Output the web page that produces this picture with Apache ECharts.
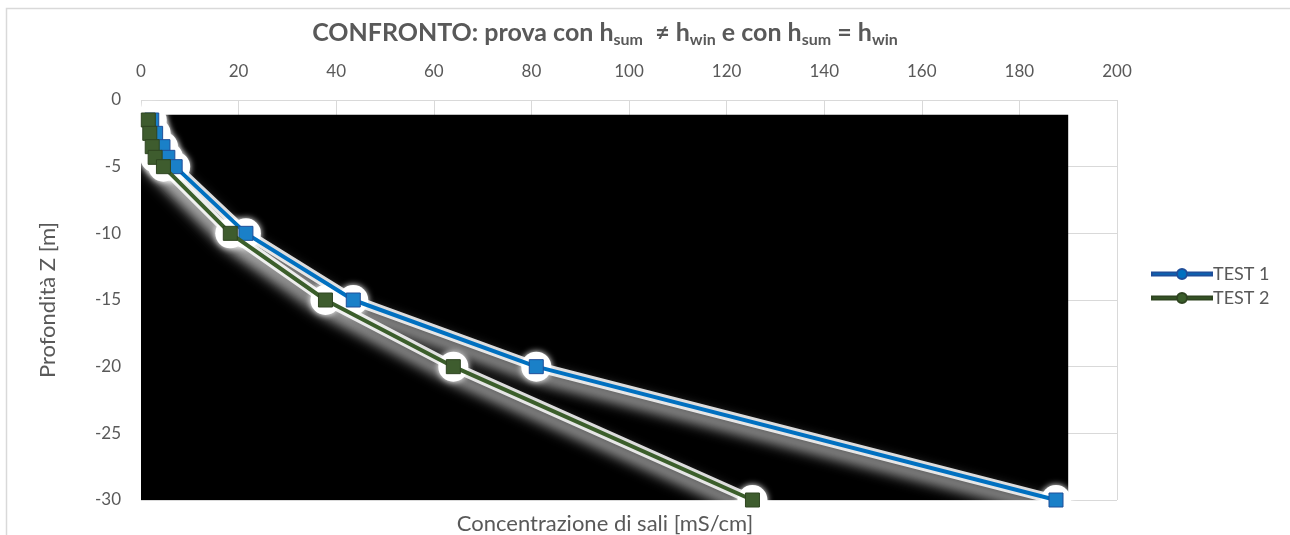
<!DOCTYPE html>
<html>
<head>
<meta charset="utf-8">
<script src="https://cdn.jsdelivr.net/npm/echarts@6/dist/echarts.min.js"></script>
<style>
  html, body { margin: 0; padding: 0; background: #fff; }
  #chart { width: 1290px; height: 535px; }
</style>
</head>
<body>
<div id="chart"></div>
<script>
// Depth profile of salt concentration, two test runs
const depths   = [-1.5, -2.5, -3.5, -4.3, -5, -10, -15, -20, -30];
const test1    = [2.2, 3.0, 4.5, 5.5, 7.0, 21.5, 43.5, 81.0, 187.5];
const test2    = [1.5, 1.8, 2.3, 2.9, 4.6, 18.3, 37.8, 64.0, 125.3];
const seriesNames = ['TEST 1', 'TEST 2'];
const xTicks = { min: 0, max: 200, step: 20 };
const yTicks = { min: -30, max: 0, step: 5 };

const FONT = 'Lato, "Open Sans", sans-serif';
const TXT = '#595959';
const BLUE = '#0070C0';
const GREEN = '#3B5E2B';

function pairs(xs) { return xs.map((v, i) => [v, depths[i]]); }

// legend glyph: a thick line with a dot in the middle
const legendIcon = 'path://M0,4 H25 V7 H0 Z M35,4 H60 V7 H35 Z M25,5.5 A5,5 0 1 1 35,5.5 A5,5 0 1 1 25,5.5 Z';

// soft white halo drawn under each test line
function halo(name, xs) {
  return {
    name: name, type: 'line', z: 2, silent: true,
    data: pairs(xs),
    symbol: 'circle', symbolSize: 30,
    lineStyle: { color: 'rgba(255,255,255,0.85)', width: 10, shadowColor: '#fff', shadowBlur: 14, shadowOffsetX: -4, shadowOffsetY: 8 },
    itemStyle: { color: '#fff', shadowColor: '#fff', shadowBlur: 6 },
    emphasis: { disabled: true }
  };
}

const chart = echarts.init(document.getElementById('chart'), null, { renderer: 'canvas' });
chart.setOption({
  backgroundColor: '#fff',
  animation: false,
  textStyle: { fontFamily: FONT },
  title: [{
    text: '{b|CONFRONTO: prova con h}{s|sum}{b|  ≠ h}{s|win}{b| e con h}{s|sum}{b| = h}{s|win}',
    left: 600, top: 13, textAlign: 'center',
    textStyle: {
      rich: {
        b: { fontFamily: FONT, fontWeight: 'bold', fontSize: 25, color: TXT, lineHeight: 30 },
        s: { fontFamily: FONT, fontWeight: 'bold', fontSize: 16, color: TXT, lineHeight: 16, padding: [14, 0, 0, 0] }
      }
    }
  }, {
    text: 'Concentrazione di sali [mS/cm]',
    left: 600, top: 508, textAlign: 'center',
    textStyle: { fontFamily: FONT, fontWeight: 'normal', fontSize: 22, color: TXT }
  }],
  graphic: [{
    type: 'rect', z: -1, silent: true,
    shape: { x: 6.5, y: 8.5, width: 1300, height: 600 },
    style: { fill: 'none', stroke: '#d9d9d9', lineWidth: 1.5 }
  }],
  legend: {
    orient: 'vertical', left: 1146, top: 260, itemGap: 6,
    itemWidth: 60, itemHeight: 11,
    textStyle: { fontFamily: FONT, fontSize: 18, color: TXT, padding: [0, 0, 0, -4] },
    data: [
      { name: seriesNames[0], icon: legendIcon, itemStyle: { color: BLUE } },
      { name: seriesNames[1], icon: legendIcon, itemStyle: { color: GREEN } }
    ]
  },
  grid: { left: 141, right: 173, top: 100, bottom: 35, containLabel: false },
  xAxis: {
    type: 'value', position: 'top',
    min: xTicks.min, max: xTicks.max, interval: xTicks.step,
    axisLine: { show: false }, axisTick: { show: false },
    axisLabel: { fontFamily: FONT, fontSize: 17, color: TXT, margin: 20 },
    splitLine: { show: true, lineStyle: { color: '#d9d9d9', width: 1 } }
  },
  yAxis: {
    type: 'value',
    min: yTicks.min, max: yTicks.max, interval: yTicks.step,
    name: 'Profondità Z [m]', nameLocation: 'middle', nameGap: 82, nameRotate: 90,
    nameTextStyle: { fontFamily: FONT, fontSize: 22, color: TXT },
    axisLine: { show: false }, axisTick: { show: false },
    axisLabel: { fontFamily: FONT, fontSize: 17, color: TXT, margin: 20 },
    splitLine: { show: true, lineStyle: { color: '#d9d9d9', width: 1 } }
  },
  series: [
    halo('halo 1', test1),
    halo('halo 2', test2),
    {
      name: seriesNames[0], type: 'line', z: 3,
      data: pairs(test1),
      symbol: 'rect', symbolSize: 14,
      lineStyle: { color: BLUE, width: 4 },
      itemStyle: { color: '#1A80C8', borderColor: '#1F4E99', borderWidth: 1 },
      markArea: {
        silent: true,
        itemStyle: { color: '#000' },
        data: [[{ coord: [0, -1.1] }, { coord: [190, -30] }]]
      }
    }, {
      name: seriesNames[1], type: 'line', z: 4,
      data: pairs(test2),
      symbol: 'rect', symbolSize: 14,
      lineStyle: { color: GREEN, width: 4 },
      itemStyle: { color: '#3E5C2E', borderColor: '#2E4420', borderWidth: 1 }
    }
  ]
});
</script>
</body>
</html>
